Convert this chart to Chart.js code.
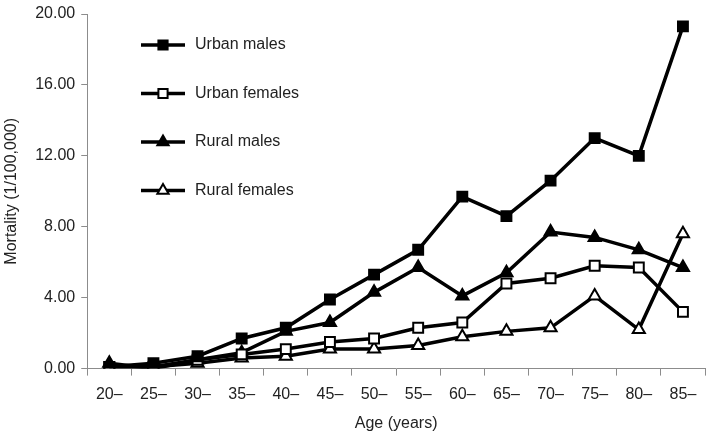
<!DOCTYPE html>
<html>
<head>
<meta charset="utf-8">
<script src="https://cdn.jsdelivr.net/npm/chart.js@4/dist/chart.umd.min.js"></script>
<style>
  html, body { margin: 0; padding: 0; background: #fff; }
  #wrap { width: 714px; height: 435px; }
</style>
</head>
<body>
<div id="wrap"><canvas id="mortChart" width="714" height="435"></canvas></div>
<script>
// Age groups
const ages = ['20–', '25–', '30–', '35–', '40–', '45–', '50–', '55–', '60–', '65–', '70–', '75–', '80–', '85–'];

// Mortality (1/100,000)
const urbanMales   = [0.1, 0.3, 0.7, 1.7, 2.3, 3.9, 5.3, 6.7, 9.7, 8.6, 10.6, 13.0, 12.0, 19.3];
const urbanFemales = [0.1, 0.1, 0.5, 0.8, 1.1, 1.5, 1.7, 2.3, 2.6, 4.8, 5.1, 5.8, 5.7, 3.2];
const ruralMales   = [0.3, 0.0, 0.5, 0.9, 2.1, 2.6, 4.3, 5.7, 4.1, 5.4, 7.7, 7.4, 6.7, 5.7];
const ruralFemales = [0.1, 0.1, 0.3, 0.6, 0.7, 1.1, 1.1, 1.3, 1.8, 2.1, 2.3, 4.1, 2.2, 7.6];

const yTicks = [0, 4, 8, 12, 16, 20];

const fontFamily = '"Liberation Sans Narrow", "Liberation Sans", Arial, sans-serif';
const axisGray = '#8c8c8c';

function series(label, data, style, filled) {
    return {
        label: label,
        data: data,
        borderColor: '#000',
        borderWidth: 3.5,
        pointStyle: style,
        pointRadius: 7,
        pointHoverRadius: 7,
        pointBorderWidth: 2,
        pointBorderColor: '#000',
        pointBackgroundColor: filled ? '#000' : '#fff',
        fill: false,
        tension: 0,
    };
}

// legend drawn inside the plot, stacked vertically
const innerLegend = {
    id: 'innerLegend',
    afterDraw(chart) {
        const ctx = chart.ctx;
        const x0 = 141, x1 = 185, top = 45, gap = 48.5;
        ctx.save();
        chart.data.datasets.forEach((ds, i) => {
            const y = top + i * gap;
            ctx.strokeStyle = '#000';
            ctx.lineWidth = 3.5;
            ctx.beginPath();
            ctx.moveTo(x0, y);
            ctx.lineTo(x1, y);
            ctx.stroke();
            ctx.fillStyle = ds.pointBackgroundColor;
            ctx.strokeStyle = '#000';
            ctx.lineWidth = ds.pointBorderWidth;
            Chart.helpers.drawPoint(ctx, {
                pointStyle: ds.pointStyle,
                radius: 6.5,
                borderWidth: ds.pointBorderWidth,
            }, (x0 + x1) / 2, y);
            ctx.fillStyle = '#222';
            ctx.font = '16px ' + fontFamily;
            ctx.textBaseline = 'middle';
            ctx.textAlign = 'left';
            ctx.fillText(ds.label, 195, y);
        });
        ctx.restore();
    }
};

const ctx = document.getElementById('mortChart').getContext('2d');
const chart = new Chart(ctx, {
    type: 'line',
    data: {
        labels: ages,
        datasets: [
            series('Urban males', urbanMales, 'rect', true),
            series('Urban females', urbanFemales, 'rect', false),
            series('Rural males', ruralMales, 'triangle', true),
            series('Rural females', ruralFemales, 'triangle', false),
        ],
    },
    options: {
        responsive: false,
        animation: false,
        layout: { padding: { top: 7, right: 4, left: 2, bottom: 2 } },
        plugins: {
            legend: { display: false },
            tooltip: { enabled: false },
        },
        scales: {
            x: {
                offset: true,
                grid: {
                    offset: true,
                    drawOnChartArea: false,
                    tickLength: 7,
                    color: axisGray,
                },
                border: { color: axisGray, width: 1 },
                ticks: {
                    color: '#222',
                    font: { family: fontFamily, size: 16 },
                    padding: 9,
                    maxRotation: 0,
                },
                title: {
                    display: true,
                    text: 'Age (years)',
                    color: '#222',
                    font: { family: fontFamily, size: 16 },
                    padding: { top: 1, bottom: 0 },
                },
            },
            y: {
                min: 0,
                max: 20,
                afterBuildTicks: (axis) => { axis.ticks = yTicks.map(v => ({ value: v })); },
                grid: {
                    drawOnChartArea: false,
                    tickLength: 6,
                    color: axisGray,
                },
                border: { color: axisGray, width: 1 },
                ticks: {
                    color: '#222',
                    font: { family: fontFamily, size: 16, lineHeight: 1 },
                    padding: 6,
                    callback: (v) => Number(v).toFixed(2),
                },
                title: {
                    display: true,
                    text: 'Mortality (1/100,000)',
                    color: '#222',
                    font: { family: fontFamily, size: 16 },
                    padding: { top: 0, bottom: 8 },
                },
            },
        },
    },
    plugins: [innerLegend],
});
</script>
</body>
</html>
